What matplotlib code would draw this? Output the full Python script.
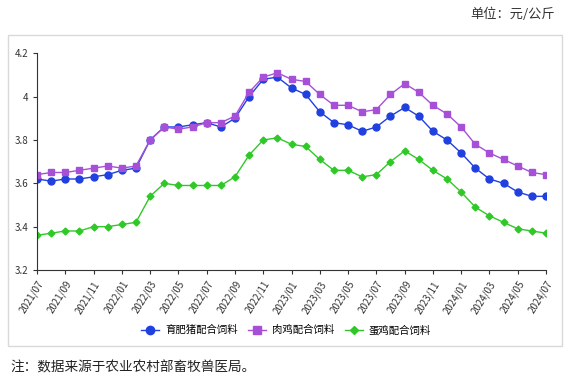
import matplotlib.pyplot as plt
from matplotlib.patches import Rectangle

plt.rcParams['font.family'] = ['Noto Sans CJK SC', 'DejaVu Sans']

months = []
for y in range(2021, 2025):
    for m in range(1, 13):
        if (y, m) >= (2021, 7) and (y, m) <= (2024, 7):
            months.append(f"{y}/{m:02d}")

pig = [3.62, 3.61, 3.62, 3.62, 3.63, 3.64, 3.66, 3.67, 3.80, 3.86, 3.86, 3.87,
       3.88, 3.86, 3.90, 4.00, 4.08, 4.09, 4.04, 4.01, 3.93, 3.88, 3.87, 3.84,
       3.86, 3.91, 3.95, 3.91, 3.84, 3.80, 3.74, 3.67, 3.62, 3.60, 3.56, 3.54, 3.54]
broiler = [3.64, 3.65, 3.65, 3.66, 3.67, 3.68, 3.67, 3.68, 3.80, 3.86, 3.85, 3.86,
           3.88, 3.88, 3.91, 4.02, 4.09, 4.11, 4.08, 4.07, 4.01, 3.96, 3.96, 3.93,
           3.94, 4.01, 4.06, 4.02, 3.96, 3.92, 3.86, 3.78, 3.74, 3.71, 3.68, 3.65, 3.64]
layer = [3.36, 3.37, 3.38, 3.38, 3.40, 3.40, 3.41, 3.42, 3.54, 3.60, 3.59, 3.59,
         3.59, 3.59, 3.63, 3.73, 3.80, 3.81, 3.78, 3.77, 3.71, 3.66, 3.66, 3.63,
         3.64, 3.70, 3.75, 3.71, 3.66, 3.62, 3.56, 3.49, 3.45, 3.42, 3.39, 3.38, 3.37]

names = ["育肥猪配合饲料", "肉鸡配合饲料", "蛋鸡配合饲料"]

fig = plt.figure(figsize=(5.72, 3.81), dpi=100)
fig.patches.append(Rectangle((8/572, 1-346/381), 554/572, 311/381, transform=fig.transFigure,
                             fill=False, edgecolor='#d9d9d9', linewidth=1))
ax = fig.add_axes([37/572, 1-270/381, 509/572, 216.7/381])

x = list(range(len(months)))
ax.plot(x, pig, color='#2040e0', marker='o', markersize=5, linewidth=1, label=names[0])
ax.plot(x, broiler, color='#a650d8', marker='s', markersize=5, linewidth=1, label=names[1])
ax.plot(x, layer, color='#30c828', marker='D', markersize=3.5, linewidth=1, label=names[2])

ax.set_xlim(0, len(months) - 1)
ax.set_ylim(3.2, 4.2)
ax.set_yticks([3.2, 3.4, 3.6, 3.8, 4.0, 4.2])
ax.set_yticklabels(["3.2", "3.4", "3.6", "3.8", "4", "4.2"])
ax.set_xticks(x[::2])
ax.set_xticklabels(months[::2], rotation=58, ha='right', rotation_mode='anchor')
ax.tick_params(labelsize=7, colors='#333333', length=3, width=0.8)
ax.spines['top'].set_visible(False)
ax.spines['right'].set_visible(False)
for s in ['left', 'bottom']:
    ax.spines[s].set_color('#333333')

leg_y = ((1-330/381) - (1-270/381)) / (216.7/381)
ax.legend(loc='center', bbox_to_anchor=((286-37)/509, leg_y),
          ncol=3, frameon=False, fontsize=7.5, handlelength=1.75, columnspacing=1.0,
          handletextpad=0.55, markerscale=1.2, bbox_transform=ax.transAxes)

fig.text(555/572, 1-14/381, "单位：元/公斤", ha='right', va='center', fontsize=9.5, color='#333333')
fig.text(10/572, 1-367/381, "注：数据来源于农业农村部畜牧兽医局。", ha='left', va='center',
         fontsize=9.8, color='#222222')

fig.savefig("out.png", dpi=100)
